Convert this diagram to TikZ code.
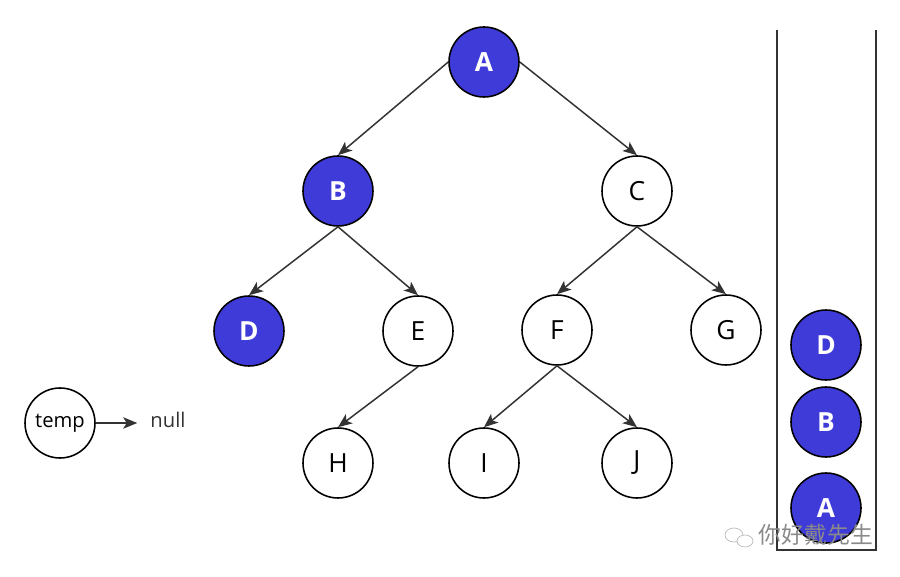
\documentclass[tikz,border=0pt]{standalone}
\usepackage{fontspec}
\setmainfont{Open Sans}
\newfontfamily\cjk{Noto Sans CJK SC}
\usepackage{tikz}
\usetikzlibrary{arrows.meta, positioning}
\definecolor{mNodeBlue}{HTML}{3F3BD8}
\definecolor{mEdgeGray}{HTML}{333333}
\definecolor{mMarkGray}{HTML}{8A8A8A}

\begin{document}
\begin{tikzpicture}[x=0.02cm, y=-0.02cm, >={Stealth[length=8pt, width=6.5pt, inset=2pt]},
    plainnode/.style={draw, circle, minimum size=1.4cm, inner sep=0pt, line width=0.9pt, fill=white, font=\fontsize{15}{17}\selectfont},
    visited/.style={plainnode, fill=mNodeBlue, text=white, font=\fontsize{15}{17}\selectfont\bfseries},
    edge/.style={->, draw=mEdgeGray, line width=0.85pt}]
  \useasboundingbox (0,0) rectangle (900,577);

  % binary tree
  \node[visited] (a) at (484,62) {A};
  \node[visited] (b) at (338,191) {B};
  \node[plainnode] (c) at (637,191) {C};
  \node[visited] (d) at (249,331) {D};
  \node[plainnode] (e) at (418,331) {E};
  \node[plainnode] (f) at (557,330) {F};
  \node[plainnode] (g) at (726,330) {G};
  \node[plainnode] (h) at (338,463) {H};
  \node[plainnode] (i) at (484,463) {I};
  \node[plainnode] (j) at (637,463) {J};

  \draw[edge] (a.west) -- (b.north);
  \draw[edge] (a.east) -- (c.north);
  \draw[edge] (b.south) -- (d.north);
  \draw[edge] (b.south) -- (e.north);
  \draw[edge] (c.south) -- (f.north);
  \draw[edge] (c.south) -- (g.north);
  \draw[edge] (e.south) -- (h.north);
  \draw[edge] (f.south) -- (i.north);
  \draw[edge] (f.south) -- (j.north);

  % temp pointer
  \node[plainnode, font=\fontsize{11.5}{13}\selectfont] (temp) at (60,423) {temp};
  \node[font=\fontsize{11.5}{13}\selectfont, text=mEdgeGray] (null) at (168,420) {null};
  \draw[edge, shorten >=4pt] (temp.east) -- (temp.east -| null.west);

  % stack
  \draw[mEdgeGray, line width=1.1pt] (777,30) -- (777,550) -- (876,550) -- (876,30);
  \node[visited] (sa) at (826,508) {A};
  \node[visited] (sb) at (826,422) {B};
  \node[visited] (sd) at (826,345) {D};

  % watermark
  \draw[mMarkGray!60, line width=0.4pt] (734,535) ellipse (9 and 7);
  \draw[mMarkGray!60, line width=0.4pt, fill=white] (745,541) ellipse (8 and 6);
  \node[font=\cjk\fontsize{13}{15}\selectfont, text=mMarkGray] (mark) at (816,535) {你好戴先生};
\end{tikzpicture}
\end{document}
